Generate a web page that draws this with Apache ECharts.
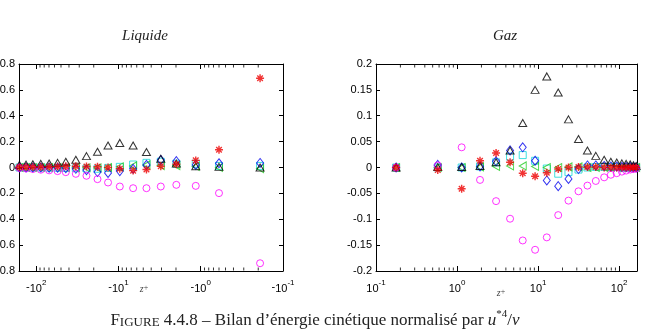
<!DOCTYPE html>
<html><head><meta charset="utf-8">
<script src="https://cdn.jsdelivr.net/npm/echarts@6/dist/echarts.min.js"></script>
<style>html,body{margin:0;padding:0;background:#fff}#c{width:645px;height:332px}</style>
</head><body><div id="c"></div><script>
// ---------- data ----------
var zLiq = [-0.19, -0.6, -1.15, -1.98, -3.06, -4.57, -6.64, -9.64, -13.4, -18, -24.5, -33, -43.7, -55, -69.7, -88, -110, -133, -160];
var liqBlack   = [0, 0.005, 0.01, 0.03, 0.067, 0.12, 0.17, 0.19, 0.17, 0.122, 0.088, 0.06, 0.045, 0.036, 0.031, 0.028, 0.025, 0.022, 0.02];
var liqBlue    = [0.035, 0.033, 0.02, 0.049, 0.058, 0.02, -0.01, -0.028, -0.042, -0.035, -0.02, -0.01, -0.005, -0.002, -0.001, 0, 0, 0, 0];
var liqRed     = [0.69, 0.137, 0.055, 0.025, 0.01, -0.015, -0.024, -0.01, 0.0, 0.006, 0.008, 0.01, 0.01, 0.008, 0.006, 0.005, 0.004, 0.003, 0.002];
var liqCyan    = [0.012, 0.012, 0.029, 0.029, 0.045, 0.036, 0.023, 0.005, -0.003, -0.01, -0.008, -0.005, -0.003, -0.002, -0.001, 0, 0, 0, 0];
var liqGreen   = [-0.008, 0.0, 0.008, 0.015, 0.015, 0.02, 0.012, 0.005, 0, -0.003, -0.002, -0.001, 0, 0, 0, 0, 0, 0, 0];
var liqMagenta = [-0.74, -0.198, -0.142, -0.134, -0.147, -0.16, -0.16, -0.147, -0.116, -0.09, -0.064, -0.049, -0.036, -0.028, -0.022, -0.017, -0.012, -0.008, -0.004];

var zGaz = [0.177, 0.578, 1.14, 1.92, 3.03, 4.51, 6.46, 9.18, 12.8, 17.7, 23.7, 31.5, 40.6, 51.5, 65.3, 78.9, 93.3, 108, 122, 137, 150, 162];
var gazBlack   = [0, 0.001, 0.001, 0.003, 0.01, 0.033, 0.086, 0.15, 0.176, 0.145, 0.093, 0.055, 0.033, 0.0225, 0.015, 0.011, 0.0095, 0.008, 0.007, 0.006, 0.0045, 0.003];
var gazBlue    = [0, 0.005, 0, 0.002, 0.012, 0.033, 0.039, 0.013, -0.025, -0.036, -0.022, -0.003, 0.004, 0.004, 0.003, 0.002, 0.002, 0.001, 0.001, 0.001, 0, 0];
var gazRed     = [0, -0.005, -0.041, 0.013, 0.028, 0.01, -0.011, -0.017, -0.01, -0.003, 0, 0.001, 0.001, 0.001, 0, 0, 0, 0, 0, 0, 0, 0];
var gazCyan    = [0, 0, 0, 0.002, 0.01, 0.021, 0.024, 0.013, -0.002, -0.012, -0.009, -0.004, 0, 0.001, 0.001, 0.001, 0.001, 0, 0, 0, 0, 0];
var gazGreen   = [0, 0, 0, 0.001, 0.002, 0.003, 0.003, 0.002, 0, 0, 0.001, 0.001, 0, 0, 0, 0, 0, 0, 0, 0, 0, 0];
var gazMagenta = [0, 0.004, 0.039, -0.024, -0.065, -0.099, -0.141, -0.159, -0.135, -0.092, -0.064, -0.046, -0.035, -0.026, -0.019, -0.014, -0.011, -0.008, -0.006, -0.004, -0.003, -0.002];

var liqYTicks = [-0.8, 0.8, 0.2];
var gazYTicks = [-0.2, 0.2, 0.05];
var liqXRange = [0.1, 162];
var gazXRange = [0.1, 166];
var minorMult = [2, 3, 4, 5, 6, 7, 8, 9];
var decades = [0.1, 1, 10, 100];

// ---------- helpers ----------
var FONT = '"Liberation Sans", Arial, sans-serif';
var asterisk = 'path://M-0.9,-5L0.9,-5L0.9,5L-0.9,5Z M-5,-0.9L5,-0.9L5,0.9L-5,0.9Z M-4.1,-2.9L-2.9,-4.1L4.1,2.9L2.9,4.1Z M2.9,-4.1L4.1,-2.9L-2.9,4.1L-4.1,2.9Z';
var styles = {
  black:   {symbol: 'triangle', size: [8, 7], color: '#000000', filled: false, rot: 0},
  blue:    {symbol: 'diamond',  size: [7, 9], color: '#0000ee', filled: false, rot: 0},
  cyan:    {symbol: 'rect',     size: [7, 7], color: '#11d8d8', filled: false, rot: 0},
  green:   {symbol: 'triangle', size: [8, 7], color: '#22cc22', filled: false, rot: 90},
  magenta: {symbol: 'circle',   size: 7,      color: '#ff00ff', filled: false, rot: 0},
  red:     {symbol: asterisk,   size: 8,      color: '#ee0000', filled: true,  rot: 0}
};
function mk(key, zs, ys, xi, yi) {
  var s = styles[key];
  var data = zs.map(function (z, i) { return [Math.abs(z), ys[i]]; });
  return {
    type: 'scatter', name: key, xAxisIndex: xi, yAxisIndex: yi, data: data,
    symbol: s.symbol, symbolSize: s.size, symbolRotate: s.rot, silent: true, clip: false,
    itemStyle: s.filled ? {color: s.color, borderWidth: 0} :
      {color: 'rgba(255,255,255,0)', borderColor: s.color, borderWidth: 1},
    emphasis: {disabled: true}
  };
}
function minorTicks(xi, yi, range, yEdge, offset) {
  var d = [];
  decades.forEach(function (dec) {
    minorMult.forEach(function (m) {
      var v = m * dec;
      if (v > range[0] && v < range[1]) d.push([v, yEdge]);
    });
  });
  return {type: 'scatter', xAxisIndex: xi, yAxisIndex: yi, data: d, symbol: 'rect',
    symbolSize: [1, 3], symbolOffset: [0, offset], silent: true, clip: false,
    itemStyle: {color: '#000'}, emphasis: {disabled: true}, z: 1};
}
function logLabel(neg) {
  return function (v) {
    var l = Math.log10(v), e = Math.round(l);
    if (Math.abs(l - e) > 1e-6) return '';
    return (neg ? '-' : '') + '{b|10}{s|' + e + '}';
  };
}
var richX = {
  b: {fontSize: 11, fontFamily: FONT, color: '#000', verticalAlign: 'bottom', lineHeight: 15},
  s: {fontSize: 8, fontFamily: FONT, color: '#000', verticalAlign: 'top', lineHeight: 15}
};
function xAx(grid, range, inverse, pos, labels, neg) {
  return {
    type: 'log', logBase: 10, gridIndex: grid, min: range[0], max: range[1], inverse: inverse,
    position: pos, interval: 1,
    axisLine: {show: true, onZero: false, lineStyle: {color: '#000', width: 1}},
    axisTick: {show: true, inside: true, length: 5, lineStyle: {color: '#000'}},
    axisLabel: labels ? {show: true, margin: 8, formatter: logLabel(neg), rich: richX,
      color: '#000', fontSize: 11, fontFamily: FONT, showMinLabel: true, showMaxLabel: true} : {show: false},
    splitLine: {show: false}, minorTick: {show: false}
  };
}
function yAx(grid, ticks, pos, labels) {
  return {
    type: 'value', gridIndex: grid, min: ticks[0], max: ticks[1], interval: ticks[2], position: pos,
    axisLine: {show: true, onZero: false, lineStyle: {color: '#000', width: 1}},
    axisTick: {show: true, inside: true, length: 4, lineStyle: {color: '#000'}},
    axisLabel: labels ? {show: true, margin: 4, color: '#000', fontSize: 11, fontFamily: FONT,
      formatter: function (v) { return String(Math.round(v * 100) / 100); }} : {show: false},
    splitLine: {show: false}
  };
}

var series = [
  mk('cyan', zLiq, liqCyan, 0, 0), mk('green', zLiq, liqGreen, 0, 0), mk('blue', zLiq, liqBlue, 0, 0),
  mk('black', zLiq, liqBlack, 0, 0), mk('magenta', zLiq, liqMagenta, 0, 0), mk('red', zLiq, liqRed, 0, 0),
  mk('cyan', zGaz, gazCyan, 2, 2), mk('green', zGaz, gazGreen, 2, 2), mk('blue', zGaz, gazBlue, 2, 2),
  mk('black', zGaz, gazBlack, 2, 2), mk('magenta', zGaz, gazMagenta, 2, 2), mk('red', zGaz, gazRed, 2, 2),
  minorTicks(0, 0, liqXRange, liqYTicks[1], 2), minorTicks(0, 0, liqXRange, liqYTicks[0], -2),
  minorTicks(2, 2, gazXRange, gazYTicks[1], 2), minorTicks(2, 2, gazXRange, gazYTicks[0], -2)
];

var chart = echarts.init(document.getElementById('c'), null, {renderer: 'canvas'});
chart.setOption({
  backgroundColor: '#fff',
  animation: false,
  grid: [
    {left: 19, top: 64, width: 264, height: 207, containLabel: false, outerBoundsMode: 'none'},
    {left: 376, top: 64, width: 261, height: 207, containLabel: false, outerBoundsMode: 'none'}
  ],
  xAxis: [
    xAx(0, liqXRange, true, 'bottom', true, true), xAx(0, liqXRange, true, 'top', false, true),
    xAx(1, gazXRange, false, 'bottom', true, false), xAx(1, gazXRange, false, 'top', false, false)
  ],
  yAxis: [
    yAx(0, liqYTicks, 'left', true), yAx(0, liqYTicks, 'right', false),
    yAx(1, gazYTicks, 'left', true), yAx(1, gazYTicks, 'right', false)
  ],
  series: series,
  graphic: [
    {type: 'text', x: 145, y: 29, style: {text: 'Liquide', font: 'italic 15px "Liberation Serif", serif', fill: '#222', textAlign: 'center'}},
    {type: 'text', x: 505, y: 29, style: {text: 'Gaz', font: 'italic 15px "Liberation Serif", serif', fill: '#222', textAlign: 'center'}},
    {type: 'text', x: 144, y: 284, style: {text: '{z|z}{p|+}', textAlign: 'center',
      rich: {z: {font: 'italic 10px "Liberation Serif", serif', fill: '#444'}, p: {font: '8px "Liberation Serif", serif', fill: '#444', verticalAlign: 'top'}}}},
    {type: 'text', x: 501, y: 288, style: {text: '{z|z}{p|+}', textAlign: 'center',
      rich: {z: {font: 'italic 10px "Liberation Serif", serif', fill: '#444'}, p: {font: '8px "Liberation Serif", serif', fill: '#444', verticalAlign: 'top'}}}},
    {type: 'text', x: 315, y: 309, style: {
      text: '{a|F}{b|IGURE}{a| 4.4.8 – Bilan d\u2019énergie cinétique normalisé par }{i|u}{s|*4}{a|/}{i|ν}',
      textAlign: 'center',
      rich: {
        a: {font: '17px "Liberation Serif", serif', fill: '#222', verticalAlign: 'bottom', lineHeight: 20},
        b: {font: '13px "Liberation Serif", serif', fill: '#222', verticalAlign: 'bottom', lineHeight: 20},
        i: {font: 'italic 17px "Liberation Serif", serif', fill: '#222', verticalAlign: 'bottom', lineHeight: 20},
        s: {font: '11px "Liberation Serif", serif', fill: '#222', verticalAlign: 'top', lineHeight: 20}
      }}}
  ]
});
</script></body></html>
